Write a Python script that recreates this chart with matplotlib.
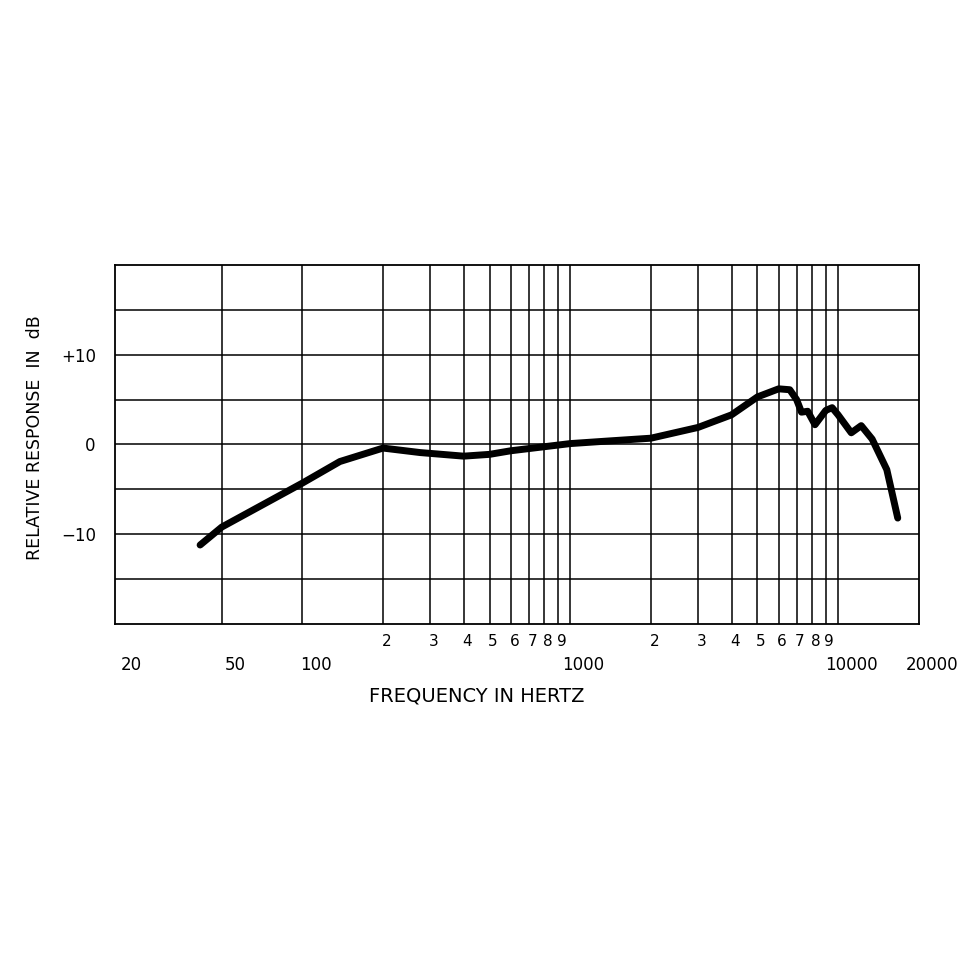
import matplotlib
matplotlib.use("Agg")
import matplotlib.pyplot as plt
import numpy as np

freq = [41.5, 50, 100, 138, 200, 275, 400, 500, 600, 1000, 1406, 2000, 3000, 4000, 5000, 6000, 6600, 7000, 7300, 7700, 8200, 9000, 9500, 10000, 11200, 12200, 13400, 15200, 16700]
resp = [-11.2, -9.2, -4.3, -1.9, -0.4, -0.9, -1.3, -1.1, -0.7, 0.1, 0.4, 0.7, 1.9, 3.3, 5.3, 6.2, 6.1, 5.0, 3.6, 3.7, 2.2, 3.8, 4.1, 3.3, 1.3, 2.1, 0.6, -2.8, -8.2]
main_ticks = [20, 50, 100, 1000, 10000, 20000]
minor_vals = [200, 300, 400, 500, 600, 700, 800, 900, 2000, 3000, 4000, 5000, 6000, 7000, 8000, 9000]
minor_labels = ["2", "3", "4", "5", "6", "7", "8", "9", "2", "3", "4", "5", "6", "7", "8", "9"]
y_ticks = [10, 0, -10]
y_labels = ["+10", "0", "\u221210"]

fig = plt.figure(figsize=(9.6, 9.6), dpi=100)
ax = fig.add_axes([0.12, 0.35, 0.837, 0.374])
ax.set_xscale("log")
ax.set_xlim(20, 20000)
ax.set_ylim(-20, 20)
for v in [50, 100] + minor_vals + [1000, 10000]:
    ax.axvline(v, color="black", lw=1.1)
for y in range(-15, 20, 5):
    ax.axhline(y, color="black", lw=1.1)
ax.plot(freq, resp, color="black", lw=5, solid_capstyle="round", solid_joinstyle="round")
for s in ax.spines.values():
    s.set_linewidth(1.3)
ax.set_xticks([]); ax.set_xticks([], minor=True)
ax.set_yticks(y_ticks)
ax.set_yticklabels(y_labels, fontsize=12)
ax.tick_params(axis="y", length=0, pad=14)
tr = ax.get_xaxis_transform()
for v, l in zip(main_ticks, ["20", "50", "100", "1000", "10000", "20000"]):
    xv = 23 if v == 20 else v * 1.12
    ax.text(xv, -0.115, l, transform=tr, ha="center", va="center", fontsize=12)
for v, l in zip(minor_vals, minor_labels):
    ax.text(v * 1.03, -0.05, l, transform=tr, ha="center", va="center", fontsize=11)
ax.text(0.45, -0.2, "FREQUENCY IN HERTZ", transform=ax.transAxes, ha="center", va="center", fontsize=14)
ax.text(-0.1, 0.52, "RELATIVE RESPONSE  IN  dB", transform=ax.transAxes, ha="center", va="center", rotation=90, fontsize=12.5)
fig.savefig("out.png", dpi=100, facecolor="white")
